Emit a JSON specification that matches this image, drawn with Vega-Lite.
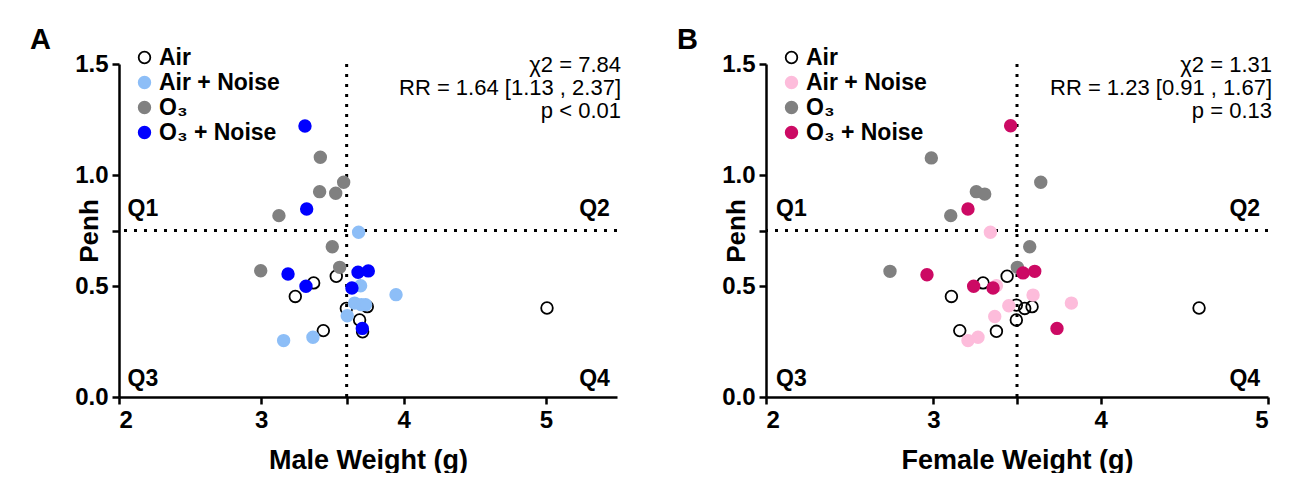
{
  "$schema": "https://vega.github.io/schema/vega-lite/v6.json",
  "padding": {"left": 30, "top": 26, "right": 0, "bottom": 0},
  "config": {
    "font": "Liberation Sans",
    "view": {"stroke": null},
    "axis": {
      "domainColor": "black", "domainWidth": 2.5, "tickColor": "black", "tickWidth": 2.5, "tickSize": 7,
      "labelFontSize": 24, "labelFontWeight": "bold", "labelColor": "black", "labelPadding": 4,
      "titleFontSize": 27, "titleFontWeight": "bold", "titleColor": "black", "grid": false
    },
    "title": {"fontSize": 29, "fontWeight": "bold", "color": "black"}
  },
  "datasets": {
    "pts": [
      {"panel": "A", "group": "Air", "x": 3.368, "y": 0.514},
      {"panel": "A", "group": "Air", "x": 3.239, "y": 0.453},
      {"panel": "A", "group": "Air", "x": 3.527, "y": 0.544},
      {"panel": "A", "group": "Air", "x": 3.598, "y": 0.399},
      {"panel": "A", "group": "Air", "x": 3.745, "y": 0.407},
      {"panel": "A", "group": "Air", "x": 3.691, "y": 0.347},
      {"panel": "A", "group": "Air", "x": 3.712, "y": 0.294},
      {"panel": "A", "group": "Air", "x": 3.436, "y": 0.299},
      {"panel": "A", "group": "Air", "x": 5.008, "y": 0.401},
      {"panel": "A", "group": "Air + Noise", "x": 3.684, "y": 0.742},
      {"panel": "A", "group": "Air + Noise", "x": 3.698, "y": 0.501},
      {"panel": "A", "group": "Air + Noise", "x": 3.947, "y": 0.461},
      {"panel": "A", "group": "Air + Noise", "x": 3.656, "y": 0.423},
      {"panel": "A", "group": "Air + Noise", "x": 3.703, "y": 0.416},
      {"panel": "A", "group": "Air + Noise", "x": 3.733, "y": 0.416},
      {"panel": "A", "group": "Air + Noise", "x": 3.604, "y": 0.366},
      {"panel": "A", "group": "Air + Noise", "x": 3.157, "y": 0.254},
      {"panel": "A", "group": "Air + Noise", "x": 3.363, "y": 0.269},
      {"panel": "A", "group": "O₃", "x": 3.415, "y": 1.080},
      {"panel": "A", "group": "O₃", "x": 3.579, "y": 0.967},
      {"panel": "A", "group": "O₃", "x": 3.410, "y": 0.925},
      {"panel": "A", "group": "O₃", "x": 3.523, "y": 0.918},
      {"panel": "A", "group": "O₃", "x": 3.124, "y": 0.817},
      {"panel": "A", "group": "O₃", "x": 3.499, "y": 0.677},
      {"panel": "A", "group": "O₃", "x": 2.996, "y": 0.569},
      {"panel": "A", "group": "O₃", "x": 3.551, "y": 0.584},
      {"panel": "A", "group": "O₃ + Noise", "x": 3.307, "y": 1.221},
      {"panel": "A", "group": "O₃ + Noise", "x": 3.319, "y": 0.847},
      {"panel": "A", "group": "O₃ + Noise", "x": 3.188, "y": 0.554},
      {"panel": "A", "group": "O₃ + Noise", "x": 3.314, "y": 0.499},
      {"panel": "A", "group": "O₃ + Noise", "x": 3.680, "y": 0.562},
      {"panel": "A", "group": "O₃ + Noise", "x": 3.752, "y": 0.568},
      {"panel": "A", "group": "O₃ + Noise", "x": 3.637, "y": 0.491},
      {"panel": "A", "group": "O₃ + Noise", "x": 3.710, "y": 0.309},
      {"panel": "B", "group": "Air", "x": 3.297, "y": 0.514},
      {"panel": "B", "group": "Air", "x": 3.108, "y": 0.453},
      {"panel": "B", "group": "Air", "x": 3.441, "y": 0.544},
      {"panel": "B", "group": "Air", "x": 3.496, "y": 0.414},
      {"panel": "B", "group": "Air", "x": 3.546, "y": 0.399},
      {"panel": "B", "group": "Air", "x": 3.590, "y": 0.407},
      {"panel": "B", "group": "Air", "x": 3.496, "y": 0.347},
      {"panel": "B", "group": "Air", "x": 3.158, "y": 0.299},
      {"panel": "B", "group": "Air", "x": 3.377, "y": 0.296},
      {"panel": "B", "group": "Air", "x": 4.588, "y": 0.401},
      {"panel": "B", "group": "Air + Noise", "x": 3.341, "y": 0.742},
      {"panel": "B", "group": "Air + Noise", "x": 3.377, "y": 0.501},
      {"panel": "B", "group": "Air + Noise", "x": 3.596, "y": 0.459},
      {"panel": "B", "group": "Air + Noise", "x": 3.825, "y": 0.423},
      {"panel": "B", "group": "Air + Noise", "x": 3.451, "y": 0.411},
      {"panel": "B", "group": "Air + Noise", "x": 3.367, "y": 0.363},
      {"panel": "B", "group": "Air + Noise", "x": 3.207, "y": 0.254},
      {"panel": "B", "group": "Air + Noise", "x": 3.267, "y": 0.269},
      {"panel": "B", "group": "O₃", "x": 2.988, "y": 1.077},
      {"panel": "B", "group": "O₃", "x": 3.257, "y": 0.925},
      {"panel": "B", "group": "O₃", "x": 3.307, "y": 0.914},
      {"panel": "B", "group": "O₃", "x": 3.104, "y": 0.817},
      {"panel": "B", "group": "O₃", "x": 3.642, "y": 0.967},
      {"panel": "B", "group": "O₃", "x": 3.576, "y": 0.677},
      {"panel": "B", "group": "O₃", "x": 3.502, "y": 0.584},
      {"panel": "B", "group": "O₃", "x": 2.741, "y": 0.566},
      {"panel": "B", "group": "O₃ + Noise", "x": 3.462, "y": 1.222},
      {"panel": "B", "group": "O₃ + Noise", "x": 3.207, "y": 0.847},
      {"panel": "B", "group": "O₃ + Noise", "x": 2.962, "y": 0.551},
      {"panel": "B", "group": "O₃ + Noise", "x": 3.241, "y": 0.499},
      {"panel": "B", "group": "O₃ + Noise", "x": 3.357, "y": 0.491},
      {"panel": "B", "group": "O₃ + Noise", "x": 3.536, "y": 0.559},
      {"panel": "B", "group": "O₃ + Noise", "x": 3.606, "y": 0.566},
      {"panel": "B", "group": "O₃ + Noise", "x": 3.739, "y": 0.309}
    ],
    "quads": [
      {"panel": "A", "label": "Q1", "x": 2.06, "y": 0.815, "side": "left"},
      {"panel": "A", "label": "Q2", "x": 5.45, "y": 0.815, "side": "right"},
      {"panel": "A", "label": "Q3", "x": 2.06, "y": 0.05, "side": "left"},
      {"panel": "A", "label": "Q4", "x": 5.45, "y": 0.05, "side": "right"},
      {"panel": "B", "label": "Q1", "x": 2.06, "y": 0.815, "side": "left"},
      {"panel": "B", "label": "Q2", "x": 4.953, "y": 0.815, "side": "right"},
      {"panel": "B", "label": "Q3", "x": 2.06, "y": 0.05, "side": "left"},
      {"panel": "B", "label": "Q4", "x": 4.953, "y": 0.05, "side": "right"}
    ],
    "stats": [
      {"panel": "A", "text": "χ2 = 7.84\nRR = 1.64 [1.13 , 2.37]\np < 0.01", "x": 5.5, "y": 1.4626},
      {"panel": "B", "text": "χ2 = 1.31\nRR = 1.23 [0.91 , 1.67]\np = 0.13", "x": 5.0, "y": 1.4626}
    ]
  },
  "hconcat": [
    {
      "width": 498, "height": 333,
      "title": {"text": "A", "anchor": "start", "frame": "group", "dx": -89, "dy": 13},
      "layer": [
        {"data": {"values": [{"y": 0.75}]}, "mark": {"type": "rule", "strokeDash": [3, 7], "strokeWidth": 3, "color": "black"},
         "encoding": {"y": {"field": "y", "type": "quantitative"}}},
        {"data": {"values": [{"x": 3.6}]}, "mark": {"type": "rule", "strokeDash": [3, 7], "strokeWidth": 3, "color": "black"},
         "encoding": {"x": {"field": "x", "type": "quantitative"}}},
        {"data": {"name": "pts"}, "transform": [{"filter": "datum.panel == 'A'"}],
         "mark": {"type": "point", "shape": "circle", "size": 135, "strokeWidth": 1.8, "opacity": 1},
         "encoding": {
           "x": {"field": "x", "type": "quantitative", "scale": {"domain": [2, 5.5], "nice": false, "zero": false},
                 "axis": {"title": "Male Weight (g)", "values": [2, 3, 3.6, 4, 5], "format": ".0f", "labelExpr": "datum.value == 3.6 ? '' : datum.label", "titlePadding": 15}},
           "y": {"field": "y", "type": "quantitative", "scale": {"domain": [0, 1.5], "nice": false},
                 "axis": {"title": "Penh", "titleFontSize": 26, "values": [0, 0.5, 0.75, 1, 1.5], "format": ".1f", "labelExpr": "datum.value == 0.75 ? '' : datum.label", "titlePadding": -28}},
           "fill": {"field": "group", "type": "nominal",
                    "scale": {"domain": ["Air", "Air + Noise", "O₃", "O₃ + Noise"], "range": ["transparent", "#8DBEF7", "#808080", "#0000FF"]},
                    "legend": {"orient": "none", "legendX": 14, "legendY": -18, "title": null, "labelFontSize": 23, "labelFontWeight": "bold", "labelColor": "black", "symbolSize": 135, "symbolStrokeWidth": 1.8, "rowPadding": 1, "labelOffset": 3, "padding": 0}},
           "stroke": {"field": "group", "type": "nominal",
                    "scale": {"domain": ["Air", "Air + Noise", "O₃", "O₃ + Noise"], "range": ["black", "#8DBEF7", "#808080", "#0000FF"]},
                    "legend": {"orient": "none", "legendX": 14, "legendY": -18, "title": null, "labelFontSize": 23, "labelFontWeight": "bold", "labelColor": "black", "symbolSize": 135, "symbolStrokeWidth": 1.8, "rowPadding": 1, "labelOffset": 3, "padding": 0}}
         }},
        {"data": {"name": "quads"}, "transform": [{"filter": "datum.panel == 'A' && datum.side == 'left'"}],
         "mark": {"type": "text", "align": "left", "baseline": "alphabetic", "fontSize": 23, "fontWeight": "bold", "color": "black"},
         "encoding": {"x": {"field": "x", "type": "quantitative"}, "y": {"field": "y", "type": "quantitative"}, "text": {"field": "label"}}},
        {"data": {"name": "quads"}, "transform": [{"filter": "datum.panel == 'A' && datum.side == 'right'"}],
         "mark": {"type": "text", "align": "right", "baseline": "alphabetic", "fontSize": 23, "fontWeight": "bold", "color": "black"},
         "encoding": {"x": {"field": "x", "type": "quantitative"}, "y": {"field": "y", "type": "quantitative"}, "text": {"field": "label"}}},
        {"data": {"name": "stats"}, "transform": [{"filter": "datum.panel == 'A'"}],
         "mark": {"type": "text", "align": "right", "baseline": "alphabetic", "fontSize": 22, "lineBreak": "\n", "lineHeight": 23, "dx": 4, "color": "black"},
         "encoding": {"x": {"field": "x", "type": "quantitative"}, "y": {"field": "y", "type": "quantitative"}, "text": {"field": "text"}}}
      ]
    },
    {
      "width": 502, "height": 333,
      "title": {"text": "B", "anchor": "start", "frame": "group", "dx": -89, "dy": 13},
      "layer": [
        {"data": {"values": [{"y": 0.75}]}, "mark": {"type": "rule", "strokeDash": [3, 7], "strokeWidth": 3, "color": "black"},
         "encoding": {"y": {"field": "y", "type": "quantitative"}}},
        {"data": {"values": [{"x": 3.5}]}, "mark": {"type": "rule", "strokeDash": [3, 7], "strokeWidth": 3, "color": "black"},
         "encoding": {"x": {"field": "x", "type": "quantitative"}}},
        {"data": {"name": "pts"}, "transform": [{"filter": "datum.panel == 'B'"}],
         "mark": {"type": "point", "shape": "circle", "size": 135, "strokeWidth": 1.8, "opacity": 1},
         "encoding": {
           "x": {"field": "x", "type": "quantitative", "scale": {"domain": [2, 5], "nice": false, "zero": false},
                 "axis": {"title": "Female Weight (g)", "values": [2, 3, 3.5, 4, 5], "format": ".0f", "labelExpr": "datum.value == 3.5 ? '' : datum.label", "titlePadding": 15}},
           "y": {"field": "y", "type": "quantitative", "scale": {"domain": [0, 1.5], "nice": false},
                 "axis": {"title": "Penh", "titleFontSize": 26, "values": [0, 0.5, 0.75, 1, 1.5], "format": ".1f", "labelExpr": "datum.value == 0.75 ? '' : datum.label", "titlePadding": -28}},
           "fill": {"field": "group", "type": "nominal",
                    "scale": {"domain": ["Air", "Air + Noise", "O₃", "O₃ + Noise"], "range": ["transparent", "#FDBCDB", "#808080", "#CC0A64"]},
                    "legend": {"orient": "none", "legendX": 14, "legendY": -18, "title": null, "labelFontSize": 23, "labelFontWeight": "bold", "labelColor": "black", "symbolSize": 135, "symbolStrokeWidth": 1.8, "rowPadding": 1, "labelOffset": 3, "padding": 0}},
           "stroke": {"field": "group", "type": "nominal",
                    "scale": {"domain": ["Air", "Air + Noise", "O₃", "O₃ + Noise"], "range": ["black", "#FDBCDB", "#808080", "#CC0A64"]},
                    "legend": {"orient": "none", "legendX": 14, "legendY": -18, "title": null, "labelFontSize": 23, "labelFontWeight": "bold", "labelColor": "black", "symbolSize": 135, "symbolStrokeWidth": 1.8, "rowPadding": 1, "labelOffset": 3, "padding": 0}}
         }},
        {"data": {"name": "quads"}, "transform": [{"filter": "datum.panel == 'B' && datum.side == 'left'"}],
         "mark": {"type": "text", "align": "left", "baseline": "alphabetic", "fontSize": 23, "fontWeight": "bold", "color": "black"},
         "encoding": {"x": {"field": "x", "type": "quantitative"}, "y": {"field": "y", "type": "quantitative"}, "text": {"field": "label"}}},
        {"data": {"name": "quads"}, "transform": [{"filter": "datum.panel == 'B' && datum.side == 'right'"}],
         "mark": {"type": "text", "align": "right", "baseline": "alphabetic", "fontSize": 23, "fontWeight": "bold", "color": "black"},
         "encoding": {"x": {"field": "x", "type": "quantitative"}, "y": {"field": "y", "type": "quantitative"}, "text": {"field": "label"}}},
        {"data": {"name": "stats"}, "transform": [{"filter": "datum.panel == 'B'"}],
         "mark": {"type": "text", "align": "right", "baseline": "alphabetic", "fontSize": 22, "lineBreak": "\n", "lineHeight": 23, "dx": 4, "color": "black"},
         "encoding": {"x": {"field": "x", "type": "quantitative"}, "y": {"field": "y", "type": "quantitative"}, "text": {"field": "text"}}}
      ]
    }
  ],
  "spacing": 149,
  "bounds": "flush",
  "resolve": {"scale": {"fill": "independent", "stroke": "independent"}, "legend": {"fill": "independent", "stroke": "independent"}}
}
